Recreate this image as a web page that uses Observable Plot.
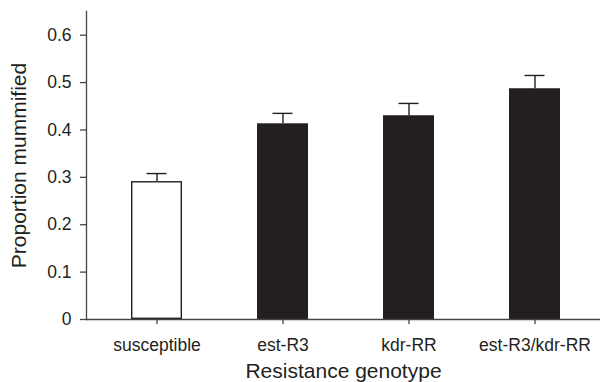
<!DOCTYPE html>
<html>
<head>
<meta charset="utf-8">
<script src="https://cdn.jsdelivr.net/npm/d3@7"></script>
<script src="https://cdn.jsdelivr.net/npm/@observablehq/plot@0.6"></script>
<style>
  html, body { margin: 0; padding: 0; background: #fff; }
</style>
</head>
<body>
<div id="chart"></div>
<script>
const genotypes = ["susceptible", "est-R3", "kdr-RR", "est-R3/kdr-RR"];
const means = [0.291, 0.413, 0.430, 0.487];
const upper = [0.308, 0.435, 0.456, 0.515];
const yTicks = [0, 0.1, 0.2, 0.3, 0.4, 0.5, 0.6];
const yTickLabels = ["0", "0.1", "0.2", "0.3", "0.4", "0.5", "0.6"];
const xTitle = "Resistance genotype";
const yTitle = "Proportion mummified";

const data = genotypes.map((g, i) => ({genotype: g, mean: means[i], upper: upper[i]}));
const ink = "#231f20";

const chart = Plot.plot({
  width: 600,
  height: 382,
  marginLeft: 86,
  marginRight: 0,
  marginTop: 11,
  marginBottom: 63,
  style: {fontFamily: "'Liberation Sans', Arial, sans-serif", color: ink, background: "#fff"},
  x: {domain: genotypes, paddingInner: 0.595, paddingOuter: 0.337, align: 0.53},
  y: {domain: [0, 0.65]},
  marks: [
    Plot.barY(data.filter(d => d.genotype === "susceptible"), {x: "genotype", y: "mean", fill: "#fff", stroke: ink, strokeWidth: 1.4, inset: 0.7}),
    Plot.barY(data.filter(d => d.genotype !== "susceptible"), {x: "genotype", y: "mean", fill: ink}),
    Plot.ruleX(data, {x: "genotype", y1: "mean", y2: "upper", stroke: ink, strokeWidth: 1.4}),
    Plot.tickY(data, {x: "genotype", y: "upper", stroke: ink, strokeWidth: 1.4, insetLeft: 15.5, insetRight: 15.5}),
    Plot.ruleY([0], {stroke: "#444", strokeWidth: 1.3}),
    Plot.frame({anchor: "left", stroke: "#444", strokeWidth: 1.3}),
    Plot.axisY({ticks: yTicks, tickFormat: (d, i) => yTickLabels[i], tickSize: 6, tickPadding: 9, fontSize: 17.5, label: null, stroke: "#444", strokeWidth: 1.3}),
    Plot.axisX({tickSize: 5, tickPadding: 14, fontSize: 17.5, label: null, stroke: "#444", strokeWidth: 1.3}),
    Plot.text([xTitle], {frameAnchor: "bottom", dy: 51.3, fontSize: 21, fill: ink, textAnchor: "middle", lineAnchor: "middle"}),
    Plot.text([yTitle], {frameAnchor: "left", dx: -67.5, rotate: -90, fontSize: 21, fill: ink, textAnchor: "middle", lineAnchor: "middle"})
  ]
});
document.getElementById("chart").appendChild(chart);
</script>
</body>
</html>
